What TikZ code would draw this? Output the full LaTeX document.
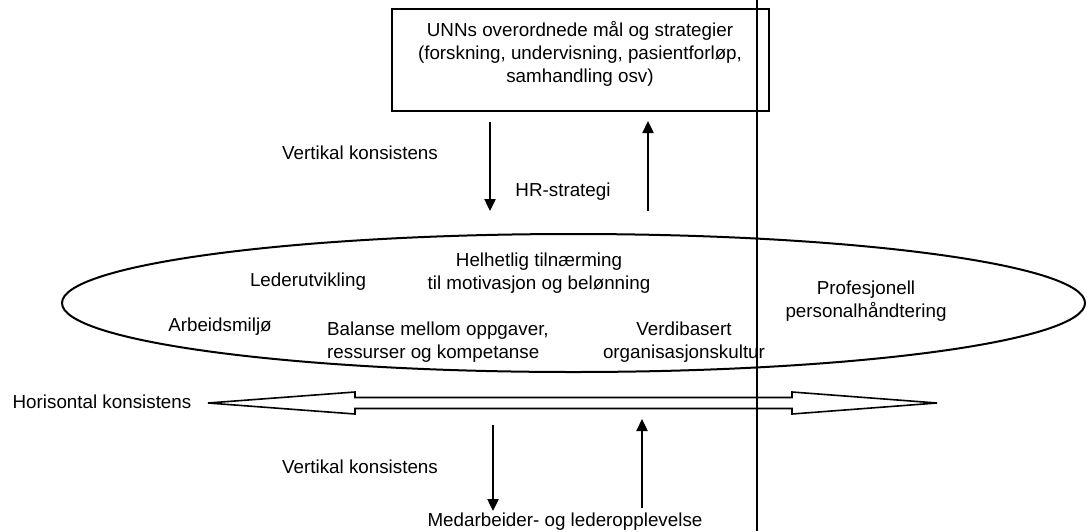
\documentclass[tikz,border=0pt]{standalone}
\usepackage{fontspec}
\setmainfont{Liberation Sans}
\usetikzlibrary{arrows.meta,calc}
\begin{document}
\begin{tikzpicture}[x=1pt,y=-1pt,
  lbl/.style={inner sep=0pt, font=\fontsize{18.8}{23}\selectfont},
  varrow/.style={line width=2.4pt, -{Triangle[width=11pt,length=12pt]}},
  frame/.style={draw, line width=2.2pt}]
\useasboundingbox (0,0) rectangle (1087,531);
% vertical guide line
\coordinate (vt) at (757,0);
\coordinate (vb) at (757,531);
\draw[line width=1.5pt] (vt) -- (vb);
% top box
\node[frame, minimum width=377pt, minimum height=102pt, inner sep=0pt] (box) at (580.5,60) {};
\node[lbl, align=center] (boxtxt) at (580,54) {UNNs overordnede mål og strategier\\(forskning, undervisning, pasientforløp,\\samhandling osv)};
% top arrows
\coordinate (d1s) at (490,122); \coordinate (d1e) at (490,211);
\coordinate (u1s) at (648,211); \coordinate (u1e) at (648,121);
\draw[varrow] (d1s) -- (d1e);
\draw[varrow] (u1s) -- (u1e);
\node[lbl] (vk1) at (360,153) {Vertikal konsistens};
\node[lbl] (hrs) at (563,192) {HR-strategi};
% ellipse
\draw[line width=2pt] (573.5,303) ellipse [x radius=511.5, y radius=69];
\node[lbl] (led) at (308,282) {Lederutvikling};
\node[lbl, align=center] (helh) at (539,273) {Helhetlig tilnærming\\til motivasjon og belønning};
\node[lbl] (arb) at (220,327) {Arbeidsmiljø};
\node[lbl, align=left, anchor=west] (bal) at (327,342) {Balanse mellom oppgaver,\\ressurser og kompetanse};
\node[lbl, align=center] (verd) at (684,342) {Verdibasert\\organisasjonskultur};
\node[lbl, align=center] (prof) at (866,301) {Profesjonell\\personalhåndtering};
% horizontal double arrow
\coordinate (hl) at (208,403);
\coordinate (hr) at (937,403);
\draw[line width=1.6pt, line join=miter, fill=white]
  (hl) -- ++(147,-11) -- ++(0,5.5) -- ($(hr)+(-145,-5.5)$) -- ++(0,-5.5) -- (hr)
  -- ++(-145,11) -- ++(0,-5.5) -- ($(hl)+(147,5.5)$) -- ++(0,5.5) -- cycle;
\draw[line width=1.5pt] (757,397) -- (757,409);
\node[lbl] (hk) at (102,402) {Horisontal konsistens};
% bottom arrows
\coordinate (d2s) at (493,425); \coordinate (d2e) at (493,511);
\coordinate (u2s) at (642,508); \coordinate (u2e) at (642,419);
\draw[varrow] (d2s) -- (d2e);
\draw[varrow] (u2s) -- (u2e);
\node[lbl] (vk2) at (360,467) {Vertikal konsistens};
\node[lbl] (med) at (565,522) {Medarbeider- og lederopplevelse};
\end{tikzpicture}
\end{document}
